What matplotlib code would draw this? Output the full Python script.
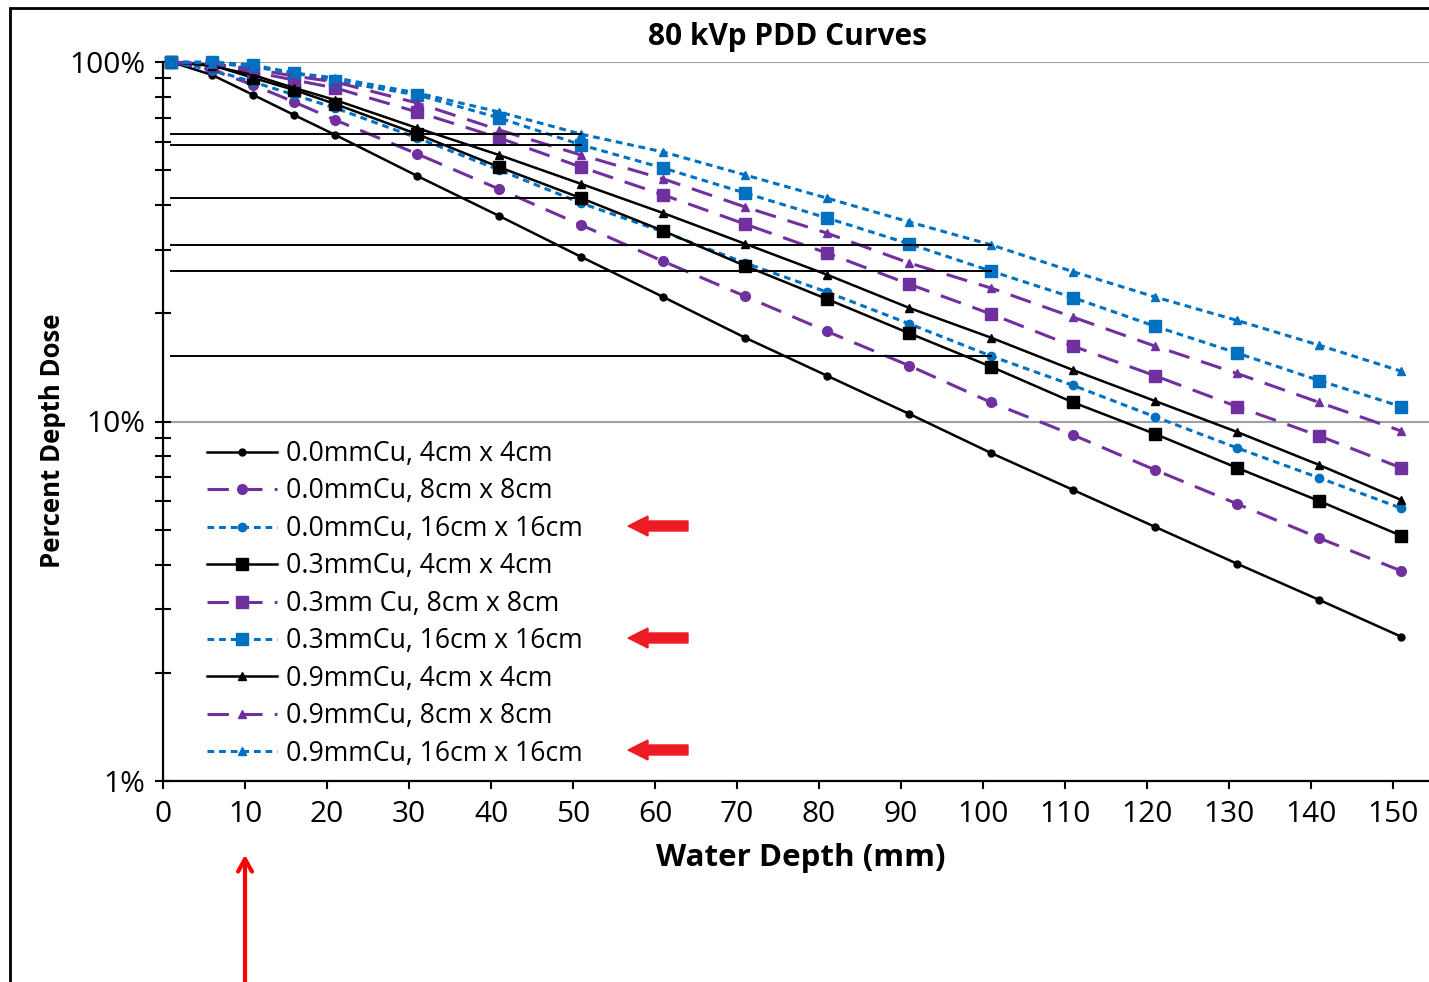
import numpy as np
import matplotlib.pyplot as plt
from matplotlib.patches import Rectangle
from matplotlib.ticker import FixedLocator, LogLocator, NullFormatter

plt.rcParams['font.family'] = ['Open Sans', 'DejaVu Sans']

# water depth (mm) of the measured points
depth = [1, 6, 11, 16, 21, 31, 41, 51, 61, 71, 81, 91, 101, 111, 121, 131, 141, 151]

# percent depth dose
pdd_00_4 = [100, 92, 81, 71.2, 62.7, 48.2, 37.3, 28.7, 22.2, 17.1, 13.4, 10.5, 8.17, 6.45, 5.09, 4.02, 3.19, 2.52]
pdd_00_8 = [100, 95, 86.3, 77.4, 69, 55.5, 44.3, 35.2, 27.9, 22.3, 17.8, 14.3, 11.3, 9.17, 7.33, 5.9, 4.74, 3.84]
pdd_00_16 = [100, 95, 88, 81, 74.5, 61.5, 50.1, 40.5, 33.7, 27.6, 22.9, 18.7, 15.2, 12.6, 10.3, 8.44, 6.97, 5.74]
pdd_03_4 = [100, 98, 90.3, 83.6, 76.4, 63, 51, 41.8, 33.9, 27.1, 21.9, 17.6, 14.2, 11.3, 9.23, 7.43, 6.01, 4.81]
pdd_03_8 = [100, 98, 93.8, 89.1, 84.7, 72.6, 61.5, 51, 42.7, 35.4, 29.4, 24.1, 19.9, 16.2, 13.4, 11.0, 9.12, 7.43]
pdd_03_16 = [100, 100, 98.1, 93.2, 88.5, 81, 69.9, 58.8, 50.7, 43.2, 36.8, 31.2, 26.2, 22.1, 18.4, 15.5, 13.0, 11.0]
pdd_09_4 = [100, 97.5, 92, 84.7, 78.4, 65.5, 55.1, 45.8, 38, 31.2, 25.6, 20.7, 17.1, 13.9, 11.4, 9.35, 7.57, 6.05]
pdd_09_8 = [100, 98.7, 95.6, 91.4, 88, 76.9, 64.7, 55.1, 47.3, 39.5, 33.4, 27.6, 23.5, 19.5, 16.2, 13.6, 11.3, 9.41]
pdd_09_16 = [100, 99.4, 96.9, 93.2, 90.3, 82, 72.6, 63, 56.2, 48.5, 41.8, 35.9, 31, 26.1, 22.2, 19.1, 16.3, 13.8]

labels = ['0.0mmCu, 4cm x 4cm', '0.0mmCu, 8cm x 8cm', '0.0mmCu, 16cm x 16cm',
          '0.3mmCu, 4cm x 4cm', '0.3mm Cu, 8cm x 8cm', '0.3mmCu, 16cm x 16cm',
          '0.9mmCu, 4cm x 4cm', '0.9mmCu, 8cm x 8cm', '0.9mmCu, 16cm x 16cm']
series = [pdd_00_4, pdd_00_8, pdd_00_16, pdd_03_4, pdd_03_8, pdd_03_16, pdd_09_4, pdd_09_8, pdd_09_16]

purple = '#7030A0'
blue = '#0070C0'
colors = ['black', purple, blue] * 3
dashes = [None, (7, 4), (2.2, 1.6)] * 3
markers = ['o'] * 3 + ['s'] * 3 + ['^'] * 3
msizes = [5, 7, 6, 9, 9, 9, 6, 6, 6]

fig = plt.figure(figsize=(14.29, 9.82), dpi=100)
ax = fig.add_axes([163 / 1429, 201 / 982, 160 * 8.2 / 1429, 719 / 982])

for y, lab, c, d, m, ms in zip(series, labels, colors, dashes, markers, msizes):
    line, = ax.plot(depth, y, color=c, marker=m, markersize=ms, lw=2.2 if c != 'black' else 1.8,
                    label=lab, clip_on=False)
    if d is not None:
        line.set_dashes(d)

# reference lines at 50 mm and 100 mm
i50 = depth.index(51)
i100 = depth.index(101)
for y in [pdd_09_16, pdd_03_16, pdd_03_4]:
    ax.plot([depth[0], depth[i50]], [y[i50]] * 2, color='black', lw=1.4)
for y in [pdd_09_16, pdd_03_16, pdd_00_16]:
    ax.plot([depth[0], depth[i100]], [y[i100]] * 2, color='black', lw=1.4)

ax.set_yscale('log')
ax.set_ylim(1, 100)
ax.set_xlim(0, 160)
ax.set_xticks(np.arange(0, 151, 10))
ax.yaxis.set_major_locator(FixedLocator([1, 10, 100]))
ax.yaxis.set_minor_locator(LogLocator(base=10, subs=np.arange(2, 10)))
ax.yaxis.set_minor_formatter(NullFormatter())
ax.set_yticklabels(['1%', '10%', '100%'])
ax.tick_params(axis='y', which='both', direction='inout', length=12, width=1.5, labelsize=21.5, pad=6.5)
ax.tick_params(axis='x', direction='out', length=6, width=1.5, labelsize=21.5, pad=8)
ax.grid(axis='y', which='major', color='#a0a0a0', lw=1.5)
ax.set_axisbelow(True)
for s in ['top', 'right']:
    ax.spines[s].set_visible(False)
for s in ['left', 'bottom']:
    ax.spines[s].set_linewidth(1.6)

leg = ax.legend(loc='upper left', bbox_to_anchor=(207 / 1429, 1 - 440 / 982), bbox_transform=fig.transFigure,
                frameon=False, fontsize=19.2, handlelength=2.62, handletextpad=0.34, labelspacing=0.355,
                borderpad=0, borderaxespad=0)

fig.text(787 / 1429, 1 - 37 / 982, '80 kVp PDD Curves', ha='center', va='center', fontsize=21.5, fontweight='bold')
fig.text(801 / 1429, 1 - 858 / 982, 'Water Depth (mm)', ha='center', va='center', fontsize=22.5, fontweight='bold')
fig.text(53 / 1429, 1 - 441 / 982, 'Percent Depth Dose', ha='center', va='center', rotation=90,
         fontsize=18.5, fontweight='bold')

# red arrows pointing at the 16cm entries
for ytop in [526, 638, 750]:
    fig.patches.append(plt.Polygon(
        [(628 / 1429, 1 - ytop / 982), (648 / 1429, 1 - (ytop - 10) / 982), (648 / 1429, 1 - (ytop - 5) / 982),
         (688 / 1429, 1 - (ytop - 5) / 982), (688 / 1429, 1 - (ytop + 5) / 982), (648 / 1429, 1 - (ytop + 5) / 982),
         (648 / 1429, 1 - (ytop + 10) / 982)], closed=True, color='#ED1C24', transform=fig.transFigure))
ax.annotate('', xy=(245, 982 - 852), xytext=(245, -5), xycoords='figure pixels', textcoords='figure pixels',
            arrowprops=dict(arrowstyle='->,head_length=0.9,head_width=0.5', color='#ff0000', lw=3))

# outer frame of the figure
fig.patches.append(Rectangle((10 / 1429, -0.1), 1.2, 1.1 - 8 / 982, fill=False, ec='black', lw=2,
                             transform=fig.transFigure))

fig.savefig('out.png', dpi=100)
